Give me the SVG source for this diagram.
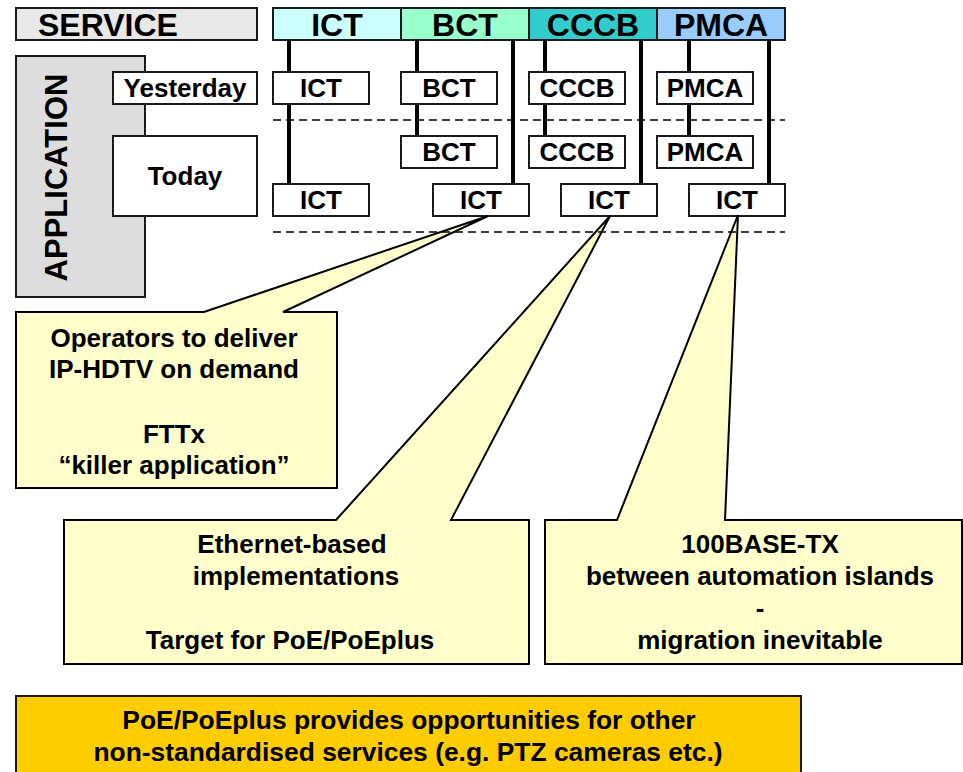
<svg xmlns="http://www.w3.org/2000/svg" width="963" height="772" viewBox="0 0 963 772">
<style>
text{font-family:"Liberation Sans",Arial,sans-serif;font-weight:bold;fill:#000}
.hd{font-size:32px;text-anchor:middle}
.bx{fill:#fff;stroke:#1a1a1a;stroke-width:2}
.bt{font-size:26px;text-anchor:middle}
.ln{stroke:#000;stroke-width:4;fill:none}
.ds{stroke:#000;stroke-width:1.5;stroke-dasharray:8 5;fill:none}
.co{fill:#ffffcc;stroke:#000;stroke-width:2;stroke-linejoin:miter}
.ct{font-size:26px;text-anchor:middle}
.st{font-size:26.4px;text-anchor:middle}
</style>
<rect width="963" height="772" fill="#fff"/>
<g id="service"><rect x="16" y="8" width="241" height="32" fill="#e8e8e8" stroke="#1a1a1a" stroke-width="2"/><text x="38" y="36" font-size="32">SERVICE</text></g>
<g id="hdr-ict"><rect x="273" y="8" width="128" height="32" fill="#ccffff" stroke="#1a1a1a" stroke-width="2"/><text class="hd" x="337" y="36">ICT</text></g>
<g id="hdr-bct"><rect x="401" y="8" width="128" height="32" fill="#99ffcc" stroke="#1a1a1a" stroke-width="2"/><text class="hd" x="465" y="36">BCT</text></g>
<g id="hdr-cccb"><rect x="529" y="8" width="128" height="32" fill="#33cccc" stroke="#1a1a1a" stroke-width="2"/><text class="hd" x="593" y="36">CCCB</text></g>
<g id="hdr-pmca"><rect x="657" y="8" width="128" height="32" fill="#99ccff" stroke="#1a1a1a" stroke-width="2"/><text class="hd" x="721" y="36">PMCA</text></g>
<g id="application"><rect x="16" y="56" width="129" height="241" fill="#dddddd" stroke="#1a1a1a" stroke-width="2"/><text transform="translate(67,177.5) rotate(-90)" font-size="31" text-anchor="middle">APPLICATION</text></g>
<g id="connectors">
<line class="ln" x1="289" y1="40" x2="289" y2="184"/>
<line class="ln" x1="417" y1="40" x2="417" y2="136"/>
<line class="ln" x1="513" y1="40" x2="513" y2="184"/>
<line class="ln" x1="545" y1="40" x2="545" y2="136"/>
<line class="ln" x1="641" y1="40" x2="641" y2="184"/>
<line class="ln" x1="689" y1="40" x2="689" y2="136"/>
<line class="ln" x1="769" y1="40" x2="769" y2="184"/>
</g>
<g id="yesterday"><rect class="bx" x="113" y="72" width="144" height="32"/><text class="bt" x="185" y="97">Yesterday</text></g>
<g id="today"><rect class="bx" x="113" y="136" width="144" height="80"/><text class="bt" x="185" y="185">Today</text></g>
<g id="y-ict"><rect class="bx" x="273" y="72" width="96" height="32"/><text class="bt" x="321" y="97">ICT</text></g>
<g id="y-bct"><rect class="bx" x="401" y="72" width="96" height="32"/><text class="bt" x="449" y="97">BCT</text></g>
<g id="y-cccb"><rect class="bx" x="529" y="72" width="96" height="32"/><text class="bt" x="577" y="97">CCCB</text></g>
<g id="y-pmca"><rect class="bx" x="657" y="72" width="96" height="32"/><text class="bt" x="705" y="97">PMCA</text></g>
<g id="t-bct"><rect class="bx" x="401" y="136" width="96" height="32"/><text class="bt" x="449" y="161">BCT</text></g>
<g id="t-cccb"><rect class="bx" x="529" y="136" width="96" height="32"/><text class="bt" x="577" y="161">CCCB</text></g>
<g id="t-pmca"><rect class="bx" x="657" y="136" width="96" height="32"/><text class="bt" x="705" y="161">PMCA</text></g>
<g id="t-ict1"><rect class="bx" x="273" y="184" width="96" height="32"/><text class="bt" x="321" y="209">ICT</text></g>
<g id="t-ict2"><rect class="bx" x="433" y="184" width="96" height="32"/><text class="bt" x="481" y="209">ICT</text></g>
<g id="t-ict3"><rect class="bx" x="561" y="184" width="96" height="32"/><text class="bt" x="609" y="209">ICT</text></g>
<g id="t-ict4"><rect class="bx" x="689" y="184" width="96" height="32"/><text class="bt" x="737" y="209">ICT</text></g>
<g id="callout1"><path class="co" d="M16,312 L204,312 L488,216 L283,312 L337,312 L337,488 L16,488 Z"/>
<text class="ct" x="174" y="347">Operators to deliver</text>
<text class="ct" x="174" y="378">IP-HDTV on demand</text>
<text class="ct" x="174" y="443">FTTx</text>
<text class="ct" x="174" y="474">“killer application”</text></g>
<g id="callout2"><path class="co" d="M64,520 L336,520 L610,216 L451,520 L529,520 L529,664 L64,664 Z"/>
<text class="ct" x="292" y="553">Ethernet-based</text>
<text class="ct" x="296" y="585">implementations</text>
<text class="ct" x="290" y="649">Target for PoE/PoEplus</text></g>
<g id="callout3"><path class="co" d="M545,520 L617,520 L738,215 L725,520 L962,520 L962,664 L545,664 Z"/>
<text class="ct" x="760" y="553">100BASE-TX</text>
<text class="ct" x="760" y="585">between automation islands</text>
<text class="ct" x="760" y="617">-</text>
<text class="ct" x="760" y="649">migration inevitable</text></g>
<g id="dividers">
<line class="ds" x1="273" y1="120" x2="785" y2="120"/>
<line class="ds" x1="273" y1="232" x2="785" y2="232"/>
</g>
<g id="summary"><rect x="16" y="696" width="785" height="80" fill="#ffcc00" stroke="#1a1a1a" stroke-width="2"/>
<text class="st" x="409" y="729">PoE/PoEplus provides opportunities for other</text>
<text class="st" x="408" y="761">non-standardised services (e.g. PTZ cameras etc.)</text></g>
</svg>
